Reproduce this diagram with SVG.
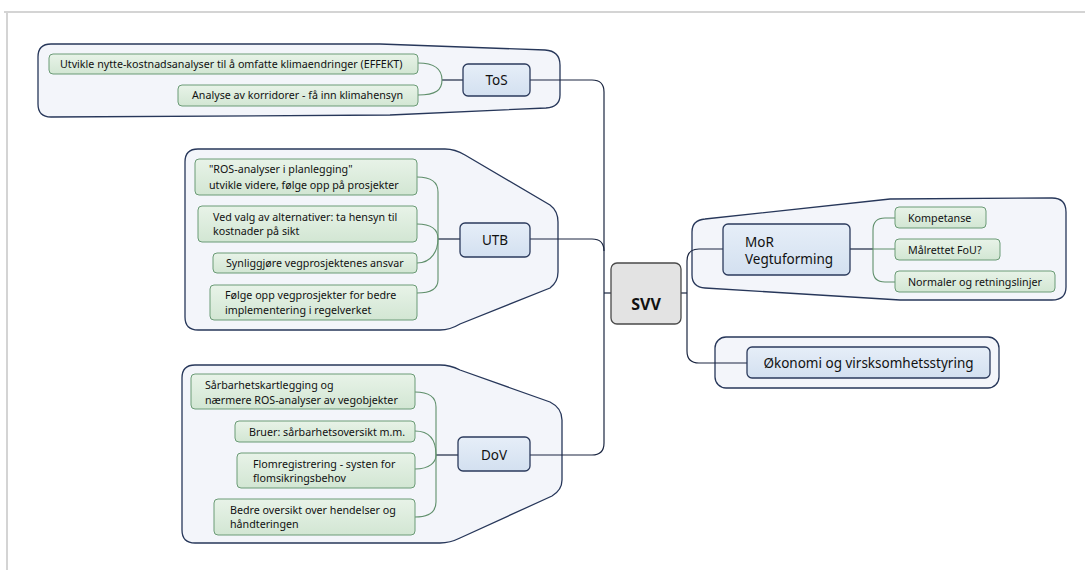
<svg xmlns="http://www.w3.org/2000/svg" width="1085" height="570" viewBox="0 0 1085 570">
<defs>
<style>
.frame{fill:none;stroke:#d4d4d4;stroke-width:2}
.bound{fill:#f3f5fa;stroke:#27375a;stroke-width:1.3}
.leaf{fill:url(#gGreen);stroke:#6b9b76;stroke-width:1}
.main{fill:url(#gBlue);stroke:#2b3a5c;stroke-width:1.3}
.root{fill:#e3e3e3;stroke:#4a4a4a;stroke-width:1.3}
.t{font-family:"Noto Sans","Open Sans",sans-serif;font-size:10.7px;fill:#111}
.tm{font-family:"Noto Sans","Open Sans",sans-serif;font-size:13.5px;fill:#111}
.tr{font-family:"Noto Sans","Open Sans",sans-serif;font-size:16px;font-weight:bold;fill:#111}
.c{fill:none;stroke:#1c2742;stroke-width:1.2}
.cg{fill:none;stroke:#5f8f6b;stroke-width:1.1}
</style>
<linearGradient id="gGreen" x1="0" y1="0" x2="0" y2="1">
<stop offset="0" stop-color="#e8f3e8"/><stop offset="1" stop-color="#d2e6d3"/>
</linearGradient>
<linearGradient id="gBlue" x1="0" y1="0" x2="0" y2="1">
<stop offset="0" stop-color="#e6eef8"/><stop offset="1" stop-color="#d3e0f0"/>
</linearGradient>
</defs>
<rect x="0" y="0" width="1085" height="570" fill="#ffffff"/>
<path class="frame" d="M4,12 L1085,12 M7,12 L7,570"/>

<g id="boundaries">
<path id="b-tos" class="bound" d="M38,57 Q38,44 51,44 L380,44 L545,50 Q560,51 560,65 L560,95 Q560,107 546,108 L390,115 L51,117 Q38,117 38,104 Z"/>
<path id="b-utb" class="bound" d="M185,162 Q185,149 198,149 L445,149 Q455,149 465,155 L550,205 Q558,211 558,222 L558,272 Q558,282 550,288 L460,324 Q450,330 440,330 L198,330 Q185,330 185,317 Z"/>
<path id="b-dov" class="bound" d="M182,378 Q182,365 195,365 L440,365 Q450,365 460,370 L550,402 Q562,408 562,420 L562,480 Q562,490 552,496 L460,538 Q450,543 440,543 L195,543 Q182,543 182,530 Z"/>
<path id="b-mor" class="bound" d="M692,232 Q692,220 705,219 L890,199 L1052,198 Q1066,198 1066,212 L1066,287 Q1066,300 1052,300 L900,300 L705,288 Q692,287 692,275 Z"/>
<rect id="b-oko" class="bound" x="715" y="337" width="284" height="51" rx="11"/>
</g>

<g id="connectors">
<path class="c" d="M530,80 L592,80 Q604,80 604,92 L604,443 Q604,455 592,455 L530,455"/>
<path class="c" d="M530,239 L592,239 Q604,239 604,251"/>
<path class="c" d="M604,293 L611,293"/>
<path class="c" d="M681,293 L687,293"/>
<path class="c" d="M723,249 L699,249 Q687,249 687,261 L687,351 Q687,363 699,363 L747,363"/>
<path class="c" d="M463,80 L442,80"/>
<path class="cg" d="M418,63 C436,63 442,70 442,80 C442,90 436,95 418,95"/>
<path class="c" d="M460,239 L438,239"/>
<path class="cg" d="M417,177 Q438,177 438,192 L438,280 Q438,293 417,293"/>
<path class="cg" d="M417,224 C432,224 438,230 438,239 M417,263 C432,263 438,250 438,239"/>
<path class="c" d="M458,455 L436,455"/>
<path class="cg" d="M415,392 Q436,392 436,407 L436,502 Q436,517 415,517"/>
<path class="cg" d="M415,431 C430,431 436,440 436,455 M415,469 C430,469 436,462 436,455"/>
<path class="c" d="M850,249 L873,249"/>
<path class="cg" d="M873,249 L895,249 M895,218 L885,218 Q873,218 873,230 L873,270 Q873,282 885,282 L895,282"/>
</g>

<g id="tos-1"><rect class="leaf" x="49" y="54" width="369" height="20" rx="4"/><text class="t" x="60" y="67.5">Utvikle nytte-kostnadsanalyser til å omfatte klimaendringer (EFFEKT)</text></g>
<g id="tos-2"><rect class="leaf" x="178" y="85" width="240" height="21" rx="4"/><text class="t" x="192" y="99">Analyse av korridorer - få inn klimahensyn</text></g>
<g id="tos"><rect class="main" x="463" y="64" width="67" height="32" rx="5"/><text class="tm" x="496.5" y="85" text-anchor="middle">ToS</text></g>

<g id="utb-1"><rect class="leaf" x="195" y="159" width="222" height="36" rx="4"/><text class="t" x="209" y="173">"ROS-analyser i planlegging"</text><text class="t" x="209" y="188.5">utvikle videre, følge opp på prosjekter</text></g>
<g id="utb-2"><rect class="leaf" x="198" y="206" width="219" height="36" rx="4"/><text class="t" x="213" y="221">Ved valg av alternativer: ta hensyn til</text><text class="t" x="213" y="235">kostnader på sikt</text></g>
<g id="utb-3"><rect class="leaf" x="213" y="253" width="204" height="20" rx="4"/><text class="t" x="226" y="267">Synliggjøre vegprosjektenes ansvar</text></g>
<g id="utb-4"><rect class="leaf" x="210" y="285" width="207" height="35" rx="4"/><text class="t" x="225" y="299">Følge opp vegprosjekter for bedre</text><text class="t" x="225" y="313.5">implementering i regelverket</text></g>
<g id="utb"><rect class="main" x="460" y="223" width="70" height="34" rx="5"/><text class="tm" x="495" y="244.5" text-anchor="middle">UTB</text></g>

<g id="dov-1"><rect class="leaf" x="191" y="374" width="224" height="35" rx="4"/><text class="t" x="205" y="389">Sårbarhetskartlegging og</text><text class="t" x="205" y="403.5">nærmere ROS-analyser av vegobjekter</text></g>
<g id="dov-2"><rect class="leaf" x="235" y="421" width="180" height="21" rx="4"/><text class="t" x="249" y="435.5">Bruer: sårbarhetsoversikt m.m.</text></g>
<g id="dov-3"><rect class="leaf" x="237" y="453" width="178" height="35" rx="4"/><text class="t" x="253" y="467.5">Flomregistrering - systen for</text><text class="t" x="253" y="482">flomsikringsbehov</text></g>
<g id="dov-4"><rect class="leaf" x="214" y="499" width="201" height="36" rx="4"/><text class="t" x="230" y="513.5">Bedre oversikt over hendelser og</text><text class="t" x="230" y="528">håndteringen</text></g>
<g id="dov"><rect class="main" x="458" y="437" width="72" height="34" rx="5"/><text class="tm" x="494" y="459.5" text-anchor="middle">DoV</text></g>

<g id="svv"><rect class="root" x="611" y="263" width="70" height="61" rx="6"/><text class="tr" x="646" y="310" text-anchor="middle">SVV</text></g>

<g id="mor"><rect class="main" x="723" y="224" width="127" height="51" rx="5"/><text class="tm" x="745" y="247">MoR</text><text class="tm" x="745" y="264">Vegtuforming</text></g>
<g id="mor-1"><rect class="leaf" x="895" y="207" width="91" height="21" rx="4"/><text class="t" x="908" y="221.5">Kompetanse</text></g>
<g id="mor-2"><rect class="leaf" x="895" y="239" width="105" height="21" rx="4"/><text class="t" x="908" y="253.5">Målrettet FoU?</text></g>
<g id="mor-3"><rect class="leaf" x="895" y="271" width="160" height="21" rx="4"/><text class="t" x="908" y="285.5">Normaler og retningslinjer</text></g>

<g id="oko"><rect class="main" x="747" y="347" width="243" height="31" rx="5"/><text class="tm" x="868.5" y="368" text-anchor="middle">Økonomi og virsksomhetsstyring</text></g>
</svg>
